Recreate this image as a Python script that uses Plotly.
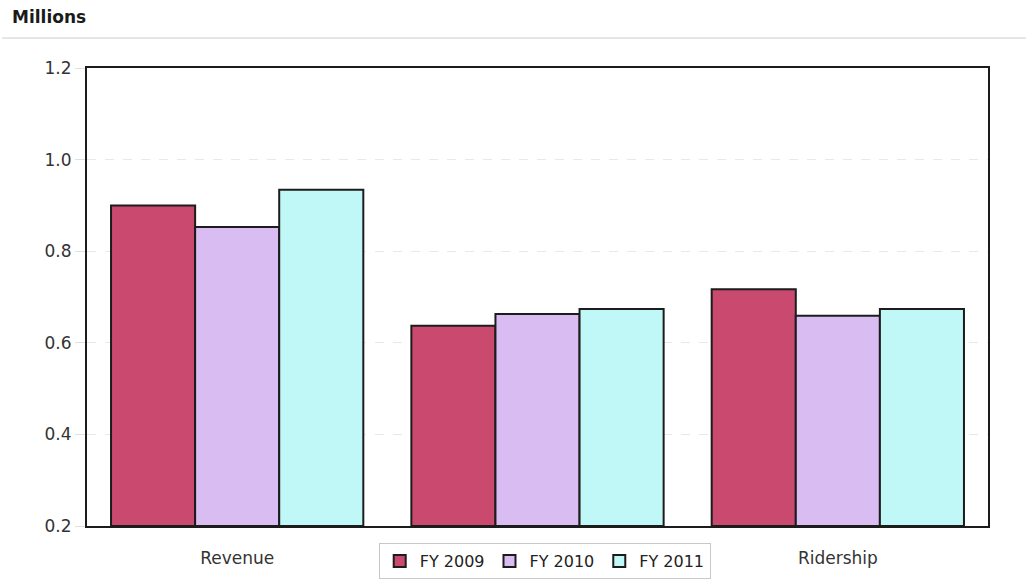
import plotly.graph_objects as go

# Category positions and labels (the middle label sits under the legend)
categories = [0, 1, 2]
tick_labels = ["Revenue", "", "Ridership"]

fy2009 = [0.90, 0.637, 0.717]
fy2010 = [0.853, 0.663, 0.659]
fy2011 = [0.934, 0.674, 0.674]

series = [
    ("FY 2009", fy2009, "#C9496F"),
    ("FY 2010", fy2010, "#D8BCF2"),
    ("FY 2011", fy2011, "#C0F7F7"),
]

fig = go.Figure()
for name, vals, color in series:
    fig.add_trace(go.Bar(
        x=categories, y=[v - 0.2 for v in vals], base=0.2, name=name,
        marker=dict(color=color, line=dict(color="#1c1c1c", width=2)),
    ))

font = "DejaVu Sans, Verdana, sans-serif"
fig.update_layout(
    width=1028, height=582,
    margin=dict(l=87, r=40, t=68, b=56, autoexpand=False),
    paper_bgcolor="white", plot_bgcolor="white",
    barmode="group", bargap=0.16, bargroupgap=0,
    font=dict(family=font, size=17, color="#333333"),
    xaxis=dict(
        tickmode="array", tickvals=categories, ticktext=tick_labels,
        range=[-0.5, 2.5], showgrid=False, zeroline=False,
        showline=True, linecolor="#1c1c1c", linewidth=2, mirror=True,
        ticks="outside", ticklen=16, tickcolor="rgba(0,0,0,0)",
        tickfont=dict(size=17),
    ),
    yaxis=dict(
        range=[0.2, 1.2], dtick=0.2, tickformat=".1f",
        showgrid=True, gridcolor="#e8e8e8", griddash="dash", gridwidth=1,
        zeroline=False, showline=True, linecolor="#1c1c1c", linewidth=2,
        mirror=True, ticks="outside", ticklen=10, tickcolor="#e0e0e0",
        tickfont=dict(size=17),
    ),
    legend=dict(
        orientation="h", x=0.508, xanchor="center",
        yref="container", y=(582 - 543) / 582, yanchor="top",
        bgcolor="white", bordercolor="#c8c8c8", borderwidth=1,
        font=dict(size=16, color="#222222"), itemwidth=30,
        traceorder="normal",
    ),
    showlegend=True,
)

fig.add_annotation(
    text="<b>Millions</b>", xref="paper", yref="paper",
    x=-77 / 901, y=1 + 51 / 458, xanchor="left", yanchor="middle",
    showarrow=False, font=dict(size=17, color="#1a1a1a", family=font),
)
# thin rule under the heading
fig.add_shape(
    type="line", xref="paper", yref="paper",
    x0=-85 / 901, x1=1 + 38 / 901, y0=1 + 30 / 458, y1=1 + 30 / 458,
    line=dict(color="#cccccc", width=1),
)

fig.write_html("out.html")
